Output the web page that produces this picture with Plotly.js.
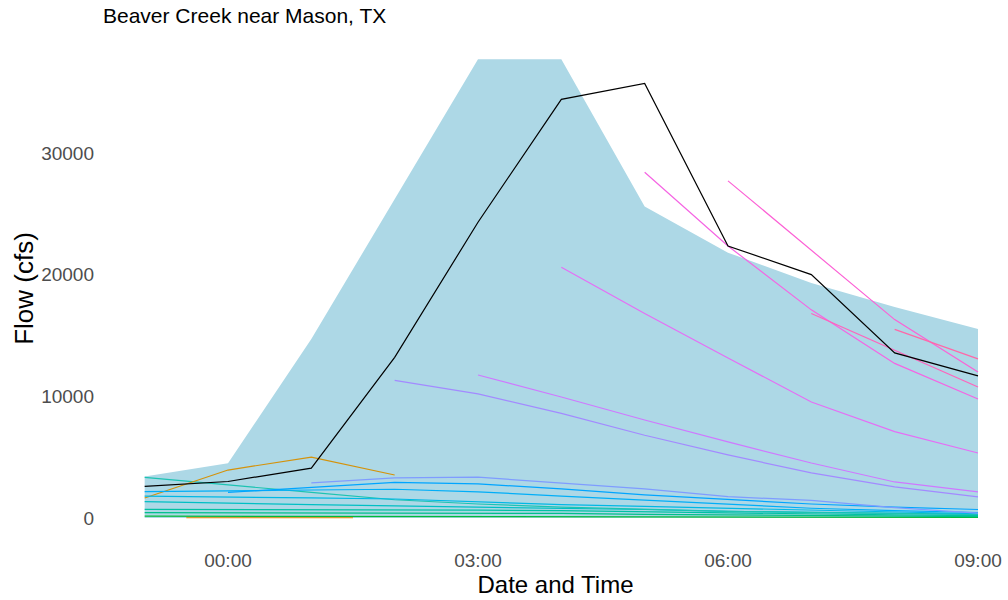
<!DOCTYPE html>
<html>
<head>
<meta charset="utf-8">
<script src="https://cdn.plot.ly/plotly-3.0.1.min.js"></script>
<style>
  html, body { margin: 0; padding: 0; background: #ffffff; }
  #chart { width: 1008px; height: 600px; }
</style>
</head>
<body>
<div id="chart"></div>
<script>
// Hours relative to midnight
const hours = [-1, 0, 1, 2, 3, 4, 5, 6, 7, 8, 9];
const tickHours = [0, 3, 6, 9];
const tickLabels = ["00:00", "03:00", "06:00", "09:00"];

// Observed flow (cfs)
const observed = [2600, 3000, 4100, 13200, 24300, 34400, 35700, 22350, 20000, 13560, 11670];

// Forecast envelope
const envLower = [0, 0, 0, 0, 0, 0, 0, 0, 0, 0, 0];
const envUpper = [3400, 4500, 14700, 26200, 37700, 37700, 25600, 21800, 19300, 17340, 15530];

// Individual forecast runs, oldest first
const runOrangeLowHours = [-0.5, 0.5, 1.5];
const runOrangeLow = [20, 20, 20];
const runGreen = [150, 140, 130, 120, 110, 100, 90, 80, 70, 60, 50];
const runGreenTeal = [440, 430, 420, 420, 400, 380, 300, 250, 200, 150, 120];
const runTealA = [710, 700, 700, 710, 650, 600, 500, 400, 300, 250, 200];
const runTealB = [1340, 1200, 1100, 990, 900, 800, 700, 550, 450, 350, 300];
const runTealTop = [3340, 2700, 2100, 1500, 1150, 900, 700, 550, 450, 350, 300];
const runOrangeHours = [-1, 0, 1, 2];
const runOrange = [1640, 3940, 5000, 3530];
const runCyan = [1800, 1750, 1650, 1560, 1300, 1100, 950, 800, 600, 450, 350];
const runSky = [2160, 2200, 2300, 2360, 2150, 1800, 1450, 1100, 800, 600, 450];
const runBlueHours = [0, 1, 2, 3, 4, 5, 6, 7, 8, 9];
const runBlue = [2100, 2500, 2930, 2800, 2400, 1900, 1500, 1150, 900, 700];
const runPeriHours = [1, 2, 3, 4, 5, 6, 7, 8, 9];
const runPeri = [2880, 3300, 3350, 2900, 2400, 1750, 1450, 850, 400];
const runPurpleHours = [2, 3, 4, 5, 6, 7, 8, 9];
const runPurple = [11300, 10200, 8600, 6800, 5180, 3700, 2550, 1730];
const runVioletHours = [3, 4, 5, 6, 7, 8, 9];
const runViolet = [11750, 9940, 8050, 6250, 4520, 2960, 2140];
const runMagentaHours = [4, 5, 6, 7, 8, 9];
const runMagenta = [20600, 16800, 13150, 9530, 7100, 5340];
const runFuchsiaHours = [5, 6, 7, 8, 9];
const runFuchsia = [28400, 22350, 17100, 12700, 9780];
const runOrchidHours = [6, 7, 8, 9];
const runOrchid = [27700, 22000, 16300, 12000];
const runPinkHours = [7, 8, 9];
const runPink = [16800, 13800, 10760];
const runRoseHours = [8, 9];
const runRose = [15500, 13070];

function run(x, y, color) {
  return {
    x: x, y: y, type: "scatter", mode: "lines",
    line: { color: color, width: 1.2 },
    hoverinfo: "skip", showlegend: false
  };
}

const traces = [
  { x: hours, y: envLower, type: "scatter", mode: "lines",
    line: { width: 0, color: "#ADD8E6" }, hoverinfo: "skip", showlegend: false },
  { x: hours, y: envUpper, type: "scatter", mode: "lines", fill: "tonexty",
    fillcolor: "#ADD8E6", line: { width: 0, color: "#ADD8E6" },
    hoverinfo: "skip", showlegend: false },
  run(hours, runGreen, "#00BA38"),
  run(hours, runGreenTeal, "#00C08B"),
  run(hours, runTealA, "#00C1A3"),
  run(hours, runTealB, "#00BFC4"),
  run(hours, runTealTop, "#1CC3B2"),
  run(runOrangeLowHours, runOrangeLow, "#E68A00"),
  run(runOrangeHours, runOrange, "#D4920A"),
  run(hours, runCyan, "#00B8E5"),
  run(hours, runSky, "#00AEF8"),
  run(runBlueHours, runBlue, "#00A5FF"),
  run(runPeriHours, runPeri, "#7F9CFF"),
  run(runPurpleHours, runPurple, "#A38AFF"),
  run(runVioletHours, runViolet, "#CF78FF"),
  run(runMagentaHours, runMagenta, "#E56EF5"),
  run(runFuchsiaHours, runFuchsia, "#F564E3"),
  run(runOrchidHours, runOrchid, "#FC61D5"),
  run(runPinkHours, runPink, "#FF62BC"),
  run(runRoseHours, runRose, "#FF67A8"),
  { x: hours, y: observed, type: "scatter", mode: "lines",
    line: { color: "#000000", width: 1.2 }, hoverinfo: "skip", showlegend: false }
];

const font = "Liberation Sans, Arial, sans-serif";

const layout = {
  width: 1008, height: 600,
  paper_bgcolor: "#ffffff", plot_bgcolor: "#ffffff",
  margin: { l: 103, r: 0, t: 36, b: 59 },
  showlegend: false,
  title: {
    text: "Beaver Creek near Mason, TX",
    font: { family: font, size: 21, color: "#000000" },
    x: 0, xref: "paper", xanchor: "left",
    y: 1, yref: "container", yanchor: "top", pad: { t: 8 }
  },
  xaxis: {
    range: [-1.5, 9.36],
    tickvals: tickHours, ticktext: tickLabels,
    showgrid: false, zeroline: false, showline: false, ticks: "",
    ticklabelstandoff: 6,
    tickfont: { family: font, size: 19, color: "#4D4D4D" },
    title: { text: "Date and Time", font: { family: font, size: 24, color: "#000000" }, standoff: 6 },
    automargin: false
  },
  yaxis: {
    range: [-1890, 39600],
    tickvals: [0, 10000, 20000, 30000],
    ticktext: ["0", "10000", "20000", "30000"],
    showgrid: false, zeroline: false, showline: false, ticks: "",
    ticklabelstandoff: 8,
    tickfont: { family: font, size: 19, color: "#4D4D4D" },
    title: { text: "Flow (cfs)", font: { family: font, size: 26, color: "#000000" }, standoff: 0 },
    automargin: false
  }
};

Plotly.newPlot("chart", traces, layout, { displayModeBar: false, staticPlot: true });
</script>
</body>
</html>
